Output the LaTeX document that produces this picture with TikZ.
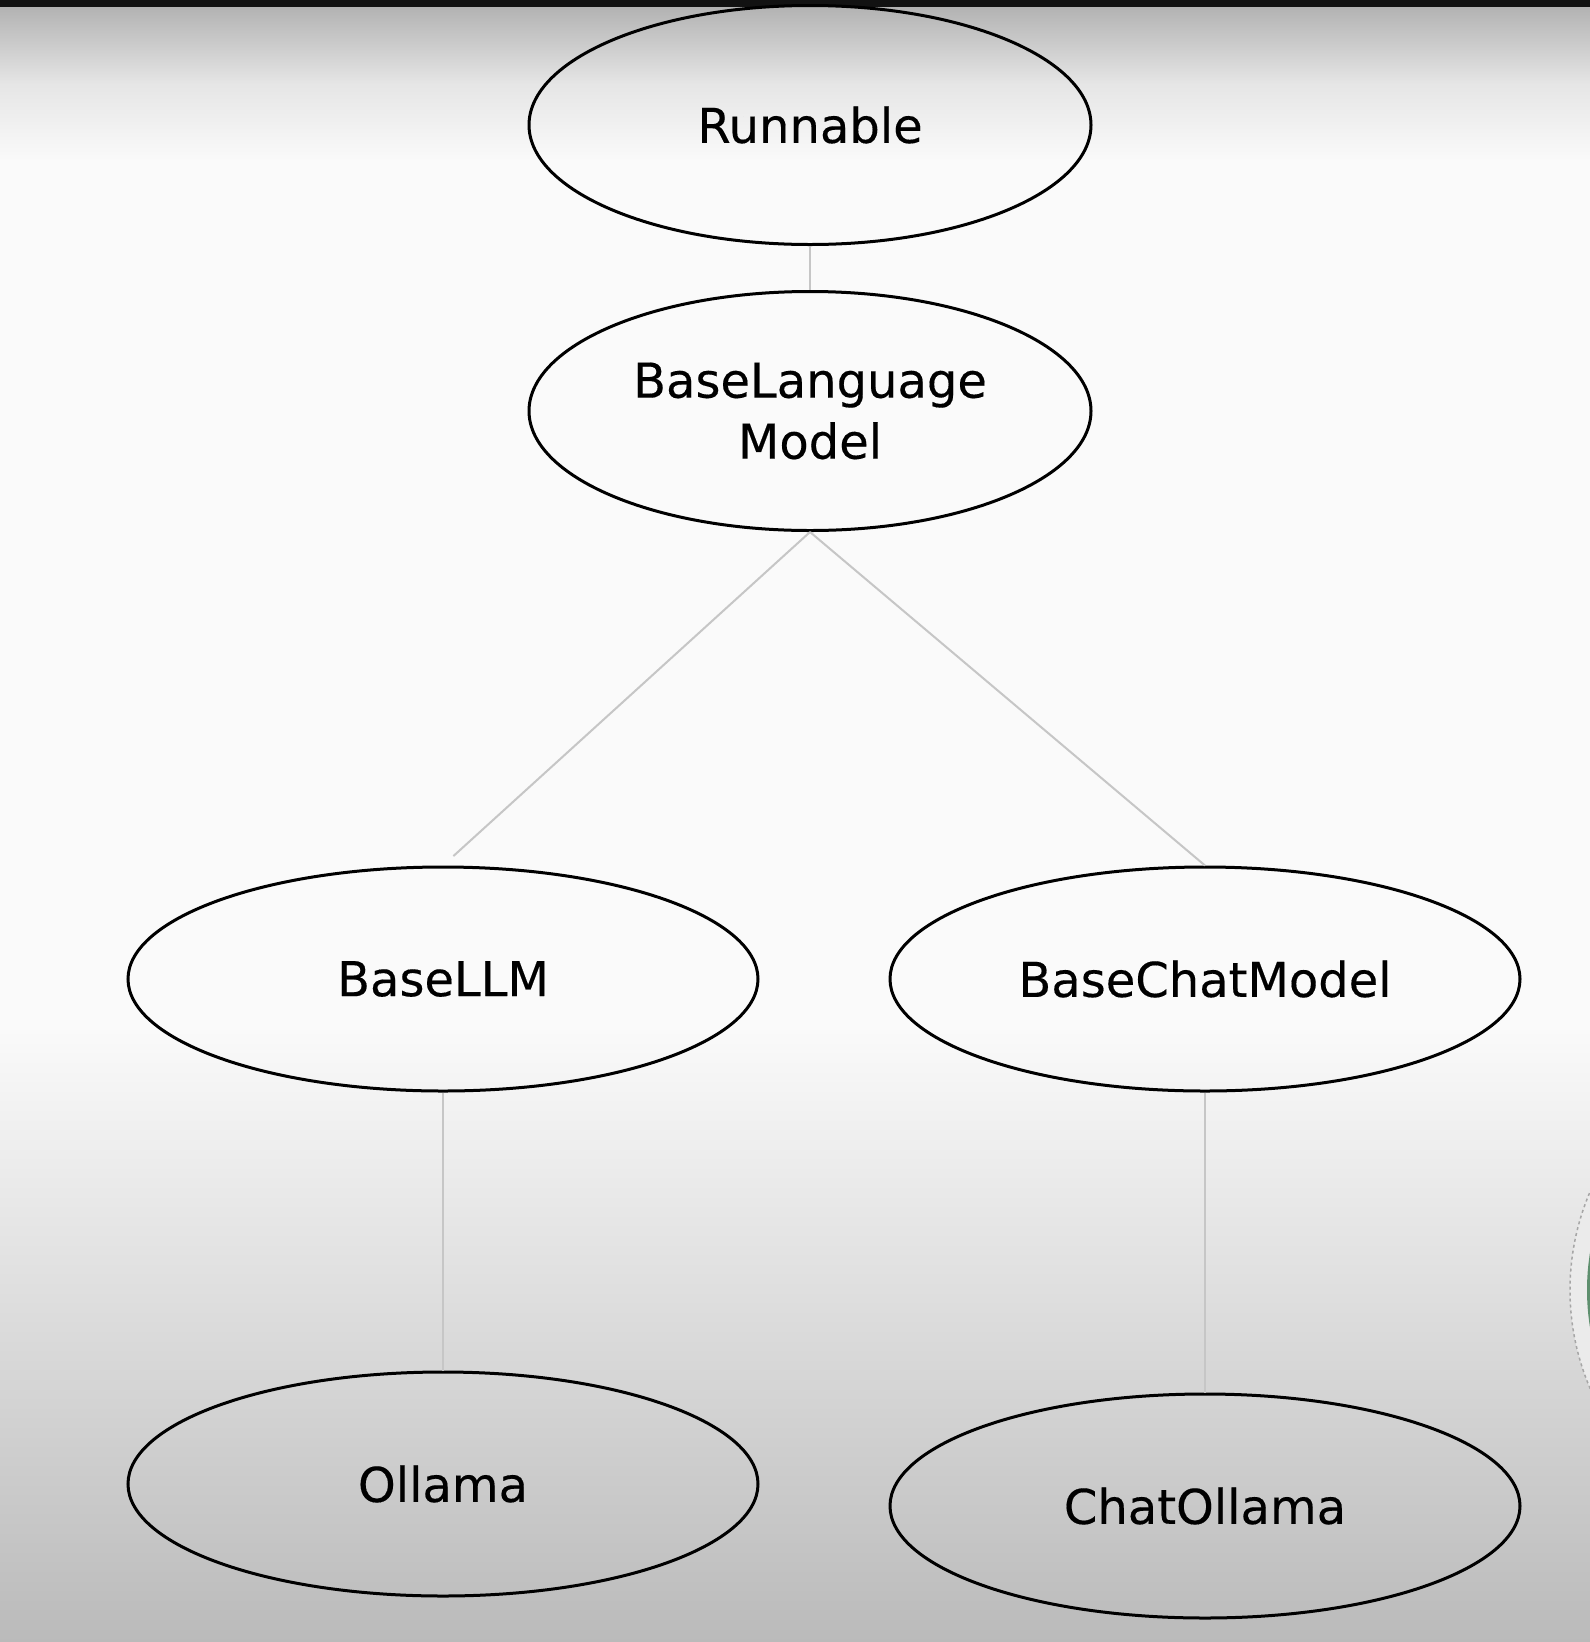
\documentclass[tikz,border=0pt]{standalone}
\usepackage{fontspec}
\setmainfont{DejaVu Sans}[FakeBold=0.3]
\usetikzlibrary{positioning,shapes.geometric}

\definecolor{linkgray}{HTML}{C6C6C6}
\definecolor{camgreen}{HTML}{5E8F6E}

\begin{document}
\begin{tikzpicture}[x=1pt,y=-1pt,
    cls/.style={ellipse, draw=black, line width=3pt, inner sep=0pt,
      minimum width=630pt, minimum height=224pt, align=center,
      font=\fontsize{48}{61}\selectfont},
    topcls/.style={cls, minimum width=562pt, minimum height=239pt},
    link/.style={draw=linkgray, line width=2pt}]
  \useasboundingbox (0,0) rectangle (1590,1642);

  % background of the slide
  \fill[black!93] (0,0) rectangle (1590,7);
  \shade[top color=black!30, bottom color=black!2, middle color=black!10] (0,7) rectangle (1590,160);
  \fill[black!2] (0,160) rectangle (1590,1030);
  \shade[top color=black!2, bottom color=black!27] (0,1030) rectangle (1590,1642);
  \begin{scope}
    \clip (0,0) rectangle (1590,1642);
    \fill[black!8, draw=black!35, dashed, line width=1.5pt] (1820,1290) circle (250);
    \fill[camgreen] (1820,1290) circle (233);
  \end{scope}

  % class hierarchy
  \node[topcls] (runnable) at (810,125) {Runnable};
  \node[topcls, below=44pt of runnable] (blm) {BaseLanguage\\Model};
  \node[cls] (basellm) at (443,979) {BaseLLM};
  \node[cls, right=129pt of basellm] (basechat) {BaseChatModel};
  \node[cls, below=278pt of basellm] (ollama) {Ollama};
  \node[cls, below=300pt of basechat] (chatollama) {ChatOllama};

  \draw[link] (runnable) -- (blm);
  \draw[link, shorten >=14pt] (blm.south) -- (basellm.north);
  \draw[link] (blm.south) -- (basechat.north);
  \draw[link] (basellm) -- (ollama);
  \draw[link] (basechat) -- (chatollama);
\end{tikzpicture}
\end{document}
